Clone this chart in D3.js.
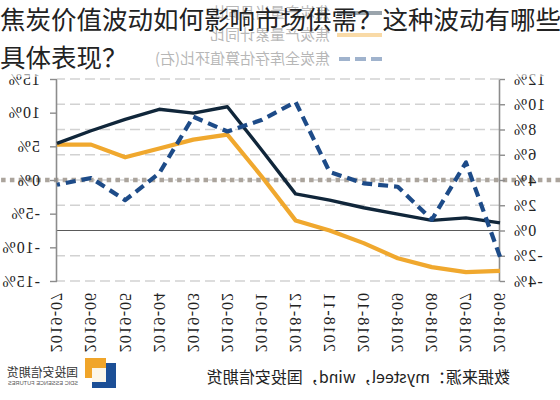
<!DOCTYPE html>
<html><head><meta charset="utf-8">
<script src="https://cdn.jsdelivr.net/npm/d3@7"></script>
<style>body{margin:0;background:#fff} svg{display:block}</style>
</head><body><svg id="c" width="560" height="400"></svg>
<script>
// ---- data (chronological) ----
const months = ["2018-06","2018-07","2018-08","2018-09","2018-10","2018-11","2018-12","2019-01","2019-02","2019-03","2019-04","2019-05","2019-06","2019-07"];
const seriesNames = ["焦炭产量当月同比","焦炭产量累计同比","焦炭全库存估算值环比(右)"];
const darkValues = [0.6,1.0,0.8,1.3,1.8,2.4,2.9,6.4,9.8,9.3,9.6,8.8,7.9,6.9];
const orangeValues = [-3.2,-3.3,-2.9,-2.2,-1.0,0.0,0.8,4.3,7.6,7.2,6.5,5.8,6.8,6.8];
const inventoryValues = [-11.4,2.6,-5.9,-1.0,-0.5,1.2,11.6,8.9,7.2,9.4,1.0,-3.0,0.3,-0.7];
const prodTicks = [-4,-2,0,2,4,6,8,10,12];
const invTicks = [-15,-10,-5,0,5,10,15];
const titleLines = ["焦炭价值波动如何影响市场供需？这种波动有哪些","具体表现？"];
const sourceText = "数据来源：mysteel，wind，国投安信期货";
const logoText = "国投安信期货";
const logoSub = "SDIC ESSENCE FUTURES";

const svg = d3.select("#c");
const W = 560;
const serif = "'Liberation Serif','Times New Roman',serif";
const cjk = "'Noto Sans CJK SC','Noto Sans',sans-serif";

// the picture is horizontally mirrored: draw the chart, then flip it
const g = svg.append("g").attr("transform", `translate(${W},0) scale(-1,1)`);

const x = d3.scalePoint().domain(months).range([60, 503]);
const yP = d3.scaleLinear().domain([-4, 12]).range([281, 79]);
const yI = d3.scaleLinear().domain([-15, 15]).range([281, 79]);

// gridlines
g.append("g").selectAll("line").data(prodTicks).join("line")
  .attr("x1", 60).attr("x2", 503)
  .attr("y1", d => yP(d)).attr("y2", d => yP(d))
  .attr("stroke", d => d === 0 ? "#5a5a5a" : "#d2d2d2")
  .attr("stroke-width", d => d === 0 ? 1.2 : 1.4)
  .attr("stroke-dasharray", d => d === 0 ? null : "10,5");

// dotted zero line of the ±15% axis across the whole width
g.append("line").attr("x1", 0).attr("x2", W)
  .attr("y1", yI(0)).attr("y2", yI(0))
  .attr("stroke", "#aba49c").attr("stroke-width", 4.5)
  .attr("stroke-dasharray", "4.5,4.3");

// axes
function styleAxis(sel) {
  sel.select(".domain").attr("stroke", "#8c8c8c").attr("stroke-width", 1.6);
  sel.selectAll(".tick line").attr("stroke", "#8c8c8c").attr("stroke-width", 1.4);
  sel.selectAll(".tick text").attr("fill", "#222").style("font-family", serif)
    .style("font-size", "16px").style("letter-spacing", "1px");
}
g.append("g").attr("transform", "translate(60,0)")
  .call(d3.axisLeft(yP).tickValues(prodTicks).tickFormat(d => d + "%").tickSize(5).tickSizeOuter(0).tickPadding(8))
  .call(styleAxis);
g.append("g").attr("transform", "translate(503,0)")
  .call(d3.axisRight(yI).tickValues(invTicks).tickFormat(d => d + "%").tickSize(7).tickSizeOuter(0).tickPadding(10))
  .call(styleAxis);

// x labels (rotated)
g.append("g").selectAll("text").data(months).join("text")
  .attr("transform", d => `translate(${x(d)},292) rotate(-90)`)
  .attr("text-anchor", "end").attr("dy", "0.35em")
  .attr("fill", "#222").style("font-family", serif)
  .style("font-size", "16px").style("letter-spacing", "1px")
  .text(d => d);

// lines
const lineP = d3.line().x((d, i) => x(months[i])).y(d => yP(d));
const lineI = d3.line().x((d, i) => x(months[i])).y(d => yI(d));
g.append("path").datum(orangeValues).attr("d", lineP)
  .attr("fill", "none").attr("stroke", "#f0a82e").attr("stroke-width", 4.2).attr("stroke-linejoin", "round");
g.append("path").datum(darkValues).attr("d", lineP)
  .attr("fill", "none").attr("stroke", "#10263a").attr("stroke-width", 3.4).attr("stroke-linejoin", "round");
g.append("path").datum(inventoryValues).attr("d", lineI)
  .attr("fill", "none").attr("stroke", "#1d4b88").attr("stroke-width", 4.2)
  .attr("stroke-dasharray", "10,6").attr("stroke-linejoin", "round");

// legend
const legColors = ["#10263a", "#f0a82e", "#1d4b88"];
const legDash = [null, null, "11,5"];
const legY = [13, 35, 59];
const leg = g.append("g").selectAll("g").data(seriesNames).join("g")
  .attr("transform", (d, i) => `translate(0,${legY[i]})`);
leg.append("line").attr("x1", 178).attr("x2", 223)
  .attr("stroke", (d, i) => legColors[i]).attr("stroke-width", 4)
  .attr("stroke-dasharray", (d, i) => legDash[i]);
leg.append("text").attr("x", 230).attr("dy", "0.36em")
  .attr("fill", "#555").style("font-family", cjk).style("font-size", "15px")
  .text(d => d);

// source + logo text
g.append("text").attr("x", 50).attr("y", 383)
  .attr("fill", "#222").style("font-family", cjk).style("font-size", "16px")
  .text(sourceText);
g.append("text").attr("x", 482).attr("y", 377)
  .attr("fill", "#333").style("font-family", cjk).style("font-size", "12px")
  .attr("textLength", 71).attr("lengthAdjust", "spacingAndGlyphs")
  .text(logoText);
g.append("text").attr("x", 482).attr("y", 385)
  .attr("fill", "#555").style("font-family", "'Liberation Sans',sans-serif").style("font-size", "6px")
  .attr("textLength", 70).attr("lengthAdjust", "spacingAndGlyphs")
  .text(logoSub);

// logo icon (drawn in picture coordinates)
const icon = svg.append("g");
icon.append("rect").attr("x", 92).attr("y", 363).attr("width", 24).attr("height", 25).attr("fill", "#1c4f96");
icon.append("rect").attr("x", 85).attr("y", 358).attr("width", 21).attr("height", 20).attr("fill", "#f0a52a");
icon.append("rect").attr("x", 92).attr("y", 368).attr("width", 14).attr("height", 14).attr("fill", "#fbf6ea");

// washed-out band under the title
svg.append("rect").attr("x", 0).attr("y", 0).attr("width", W).attr("height", 77)
  .attr("fill", "#fff").attr("opacity", 0.58);

// title
svg.append("g").selectAll("text").data(titleLines).join("text")
  .attr("x", 0).attr("y", (d, i) => 29 + i * 38)
  .attr("fill", "#222").style("font-family", cjk).style("font-size", "25.5px")
  .text(d => d);
</script></body></html>
